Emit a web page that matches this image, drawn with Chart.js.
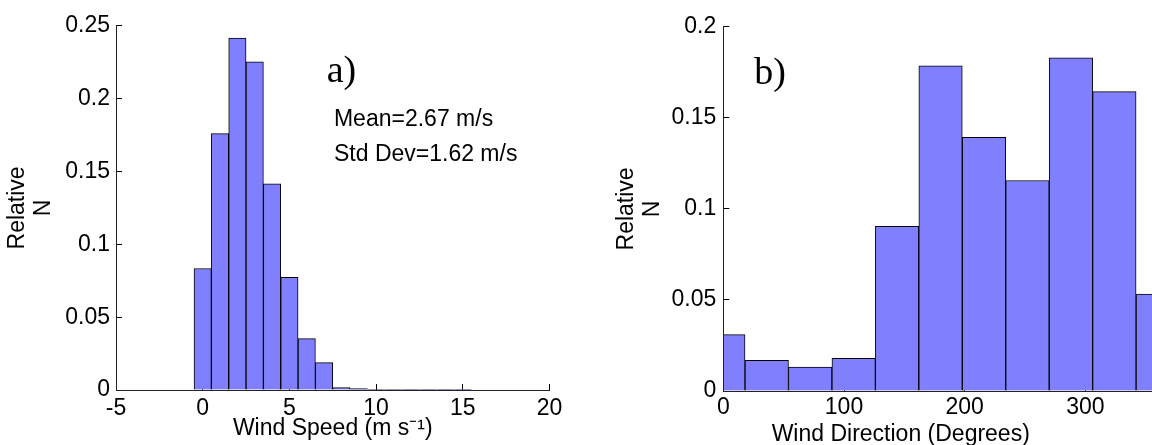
<!DOCTYPE html>
<html><head><meta charset="utf-8">
<script src="https://cdn.jsdelivr.net/npm/chart.js@4.4.1/dist/chart.umd.min.js"></script>
<style>
html,body{margin:0;padding:0;background:#fff;overflow:hidden;width:1152px;height:445px;position:relative}
#wrapA{position:absolute;left:0;top:0;width:576px;height:445px}
#wrapB{position:absolute;left:576px;top:0;width:704px;height:445px}
canvas{display:block}
</style></head><body>
<div id="wrapA"><canvas id="a" width="576" height="445"></canvas></div>
<div id="wrapB"><canvas id="b" width="704" height="445"></canvas></div>
<script>
// ---- data ----
const speedCenters = [0, 1, 2, 3, 4, 5, 6, 7, 8, 9, 10, 11, 12, 13, 14, 15];
const speedFreq = [0.0834, 0.176, 0.2415, 0.2252, 0.1415, 0.0773, 0.0353, 0.0188, 0.0016, 0.0009, 0.0003, 0.0003, 0.0002, 0.0002, 0.0002, 0.0002];
const speedXTicks = [-5, 0, 5, 10, 15, 20];
const speedYTicks = [0, 0.05, 0.1, 0.15, 0.2, 0.25];

const dirCenters = [0, 36, 72, 108, 144, 180, 216, 252, 288, 324, 360];
const dirFreq = [0.031, 0.0168, 0.0132, 0.018, 0.0904, 0.1785, 0.1393, 0.1156, 0.1829, 0.1644, 0.0532];
const dirXTicks = [0, 100, 200, 300, 400];
const dirYTicks = [0, 0.05, 0.1, 0.15, 0.2];

const speedTitle = 'Wind Speed (m s\u207B\u00B9)';
const dirTitle = 'Wind Direction (Degrees)';
const yTitle = ['Relative', 'N'];
const statLines = ['Mean=2.67 m/s', 'Std Dev=1.62 m/s'];

// ---- styling ----
const SANS = "'Liberation Sans', Arial, Helvetica, sans-serif";
const SERIF = "'Liberation Serif', 'Times New Roman', serif";
const FS = 23;
const fmt = v => String(parseFloat(Number(v).toFixed(4)));

const notes = {
  id: 'notes',
  afterDraw(chart, args, opts) {
    const {ctx, scales: {x, y}} = chart;
    ctx.save();
    ctx.fillStyle = '#000';
    ctx.textBaseline = 'alphabetic';
    for (const n of opts.items || []) {
      ctx.font = n.font;
      ctx.textAlign = n.align || 'left';
      const px = x.getPixelForValue(n.x);
      const py = n.py !== undefined ? n.py : y.getPixelForValue(n.y);
      ctx.fillText(n.text, px, py);
    }
    ctx.restore();
  }
};

function axisX(min, max, ticks, height, pad, title, titlePadB) {
  return {
    type: 'linear', min, max, offset: false,
    afterBuildTicks: s => { s.ticks = ticks.map(v => ({value: v})); },
    afterFit: s => { s.height = height; },
    grid: {offset: false, drawOnChartArea: false, drawTicks: true, tickLength: -6, color: '#000', lineWidth: 1},
    border: {display: true, color: '#222', width: 1},
    ticks: {font: {family: SANS, size: FS, lineHeight: 1.2}, color: '#000', padding: pad,
             maxRotation: 0, minRotation: 0, autoSkip: false, callback: v => fmt(v)},
    title: title ? {display: true, text: title, color: '#000',
                    font: {family: SANS, size: FS, lineHeight: 1.2}, padding: {top: 0, bottom: titlePadB}}
                 : {display: false}
  };
}
function axisY(max, ticks, width, pad, titlePadT) {
  return {
    type: 'linear', min: 0, max,
    afterBuildTicks: s => { s.ticks = ticks.map(v => ({value: v})); },
    afterFit: s => { s.width = width; },
    grid: {drawOnChartArea: false, drawTicks: true, tickLength: -6, color: '#000', lineWidth: 1},
    border: {display: true, color: '#222', width: 1, z: 1},
    ticks: {font: {family: SANS, size: FS, lineHeight: 1.2}, color: '#000', padding: pad, autoSkip: false,
            callback: v => fmt(v)},
    title: {display: true, text: yTitle, color: '#000',
            font: {family: SANS, size: FS, lineHeight: 26 / FS}, padding: {top: titlePadT, bottom: 0}}
  };
}
function barSet(xs, ys) {
  return {
    data: xs.map((x, i) => ({x, y: ys[i]})),
    backgroundColor: '#8080ff', borderColor: '#000', borderWidth: 1,
    barPercentage: 1, categoryPercentage: 1, clip: 0
  };
}

new Chart(document.getElementById('a'), {
  type: 'bar',
  data: {datasets: [barSet(speedCenters, speedFreq)]},
  options: {
    responsive: false, animation: false, events: [],
    layout: {padding: {left: 0, top: 21.5, right: 26.5, bottom: 0}},
    plugins: {
      legend: {display: false}, tooltip: {enabled: false},
      notes: {items: [
        {text: 'a)', x: 7.15, y: 0.2115, font: `38px ${SERIF}`},
        {text: statLines[0], x: 7.57, y: 0.1813, font: `${FS}px ${SANS}`},
        {text: statLines[1], x: 7.57, y: 0.1572, font: `${FS}px ${SANS}`}
      ]}
    },
    scales: {
      x: axisX(-5, 20, speedXTicks, 55, 11, speedTitle, 3),
      y: axisY(0.25, speedYTicks, 116, 12, 5)
    }
  },
  plugins: [notes]
});

new Chart(document.getElementById('b'), {
  type: 'bar',
  data: {datasets: [barSet(dirCenters, dirFreq)]},
  options: {
    responsive: false, animation: false, events: [],
    layout: {padding: {left: 0, top: 21.7, right: 73.9, bottom: 0}},
    plugins: {
      legend: {display: false}, tooltip: {enabled: false},
      notes: {items: [
        {text: 'b)', x: 25.7, y: 0.1688, font: `38px ${SERIF}`},
        {text: dirTitle, x: 147, py: 440.5, align: 'center', font: `${FS}px ${SANS}`}
      ]}
    },
    scales: {
      x: axisX(0, 400, dirXTicks, 54, 9.2, null, 0),
      y: axisY(0.2, dirYTicks, 147.3, 13, 38)
    }
  },
  plugins: [notes]
});
</script>
</body></html>
